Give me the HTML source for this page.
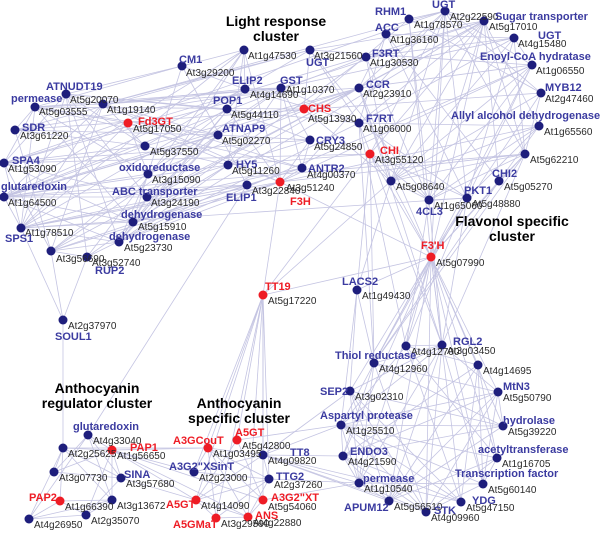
<!DOCTYPE html>
<html><head><meta charset="utf-8">
<style>
html,body{margin:0;padding:0;background:#fff;}
svg{display:block;}
.n{font-family:"Liberation Sans",sans-serif;font-weight:bold;font-size:11px;fill:#3b3ba0;}
.r{font-family:"Liberation Sans",sans-serif;font-weight:bold;font-size:11px;fill:#ee1c25;}
.i{font-family:"Liberation Sans",sans-serif;font-size:10px;fill:#2a2a2a;}
.t{font-family:"Liberation Sans",sans-serif;font-weight:bold;font-size:14px;fill:#000;text-anchor:middle;}
</style></head><body>
<svg id="s" width="600" height="549" viewBox="0 0 600 549" xmlns="http://www.w3.org/2000/svg">
<rect width="600" height="549" fill="#fff"/>
<g id="edges" stroke="#c4c4e2" stroke-width="0.8" fill="none"></g>
<g id="nodes"></g>
<g id="labels">
<text class="t" x="276" y="26">Light response</text><text class="t" x="276" y="41">cluster</text>
<text class="t" x="512" y="226">Flavonol specific</text><text class="t" x="512" y="241">cluster</text>
<text class="t" x="97" y="393">Anthocyanin</text><text class="t" x="97" y="408">regulator cluster</text>
<text class="t" x="239" y="408">Anthocyanin</text><text class="t" x="239" y="423">specific cluster</text>

<text class="n" x="179" y="63">CM1</text><text class="i" x="186" y="76">At3g29200</text>
<text class="i" x="248" y="59">At1g47530</text>
<text class="i" x="314" y="59">At3g21560</text><text class="n" x="306" y="66">UGT</text>
<text class="n" x="46" y="90">ATNUDT19</text><text class="i" x="70" y="103">At5g20070</text>
<text class="n" x="11" y="102">permease</text><text class="i" x="39" y="115">At5g03555</text>
<text class="i" x="107" y="113">At1g19140</text>
<text class="r" x="138" y="125">Fd3GT</text><text class="i" x="133" y="132">At5g17050</text>
<text class="n" x="22" y="131">SDR</text><text class="i" x="20" y="139">At3g61220</text>
<text class="n" x="12" y="164">SPA4</text><text class="i" x="8" y="172">At1g53090</text>
<text class="n" x="1" y="190">glutaredoxin</text><text class="i" x="8" y="206">At1g64500</text>
<text class="i" x="25" y="236">At1g78510</text><text class="n" x="5" y="242">SPS1</text>
<text class="i" x="56" y="262">At3g56690</text><text class="i" x="92" y="266">At3g52740</text><text class="n" x="95" y="274">RUP2</text>
<text class="i" x="150" y="155">At5g37550</text>
<text class="n" x="119" y="171">oxidoreductase</text><text class="i" x="152" y="183">At3g15090</text>
<text class="n" x="112" y="195">ABC transporter</text><text class="i" x="151" y="206">At3g24190</text>
<text class="n" x="121" y="218">dehydrogenase</text><text class="i" x="138" y="230">At5g15910</text>
<text class="n" x="109" y="240">dehydrogenase</text><text class="i" x="124" y="251">At5g23730</text>
<text class="n" x="232" y="84">ELIP2</text><text class="i" x="250" y="98">At4g14690</text>
<text class="n" x="280" y="84">GST</text><text class="i" x="286" y="93">At1g10370</text>
<text class="n" x="213" y="104">POP1</text><text class="i" x="231" y="118">At5g44110</text>
<text class="n" x="222" y="132">ATNAP9</text><text class="i" x="222" y="144">At5g02270</text>
<text class="n" x="236" y="168">HY5</text><text class="i" x="232" y="174">At5g11260</text>
<text class="n" x="226" y="201">ELIP1</text><text class="i" x="252" y="194">At3g22840</text>
<text class="r" x="290" y="205">F3H</text><text class="i" x="286" y="191">At3g51240</text>
<text class="r" x="308" y="112">CHS</text><text class="i" x="308" y="122">At5g13930</text>
<text class="n" x="316" y="144">CRY3</text><text class="i" x="314" y="150">At5g24850</text>
<text class="n" x="308" y="172">ANTR2</text><text class="i" x="307" y="178">At4g00370</text>

<text class="n" x="432" y="8">UGT</text><text class="i" x="450" y="20">At2g22590</text>
<text class="n" x="375" y="15">RHM1</text><text class="i" x="414" y="28">At1g78570</text>
<text class="n" x="495" y="20">Sugar transporter</text><text class="i" x="489" y="30">At5g17010</text>
<text class="n" x="375" y="31">ACC</text><text class="i" x="390" y="43">At1g36160</text>
<text class="n" x="538" y="39">UGT</text><text class="i" x="518" y="47">At4g15480</text>
<text class="n" x="372" y="57">F3RT</text><text class="i" x="370" y="66">At1g30530</text>
<text class="n" x="480" y="60">Enoyl-CoA hydratase</text><text class="i" x="536" y="74">At1g06550</text>
<text class="n" x="366" y="88">CCR</text><text class="i" x="363" y="97">At2g23910</text>
<text class="n" x="545" y="91">MYB12</text><text class="i" x="545" y="102">At2g47460</text>
<text class="n" x="366" y="122">F7RT</text><text class="i" x="363" y="132">At1g06000</text>
<text class="n" x="451" y="119">Allyl alcohol dehydrogenase</text><text class="i" x="544" y="135">At1g65560</text>
<text class="r" x="380" y="154">CHI</text><text class="i" x="375" y="163">At3g55120</text>
<text class="i" x="530" y="163">At5g62210</text>
<text class="n" x="492" y="177">CHI2</text><text class="i" x="504" y="190">At5g05270</text>
<text class="i" x="396" y="190">At5g08640</text>
<text class="n" x="464" y="194">PKT1</text><text class="i" x="472" y="207">At5g48880</text>
<text class="i" x="434" y="209">At1g65060</text><text class="n" x="416" y="215">4CL3</text>
<text class="r" x="421" y="249">F3'H</text><text class="i" x="436" y="266">At5g07990</text>

<text class="i" x="68" y="329">At2g37970</text><text class="n" x="55" y="340">SOUL1</text>
<text class="n" x="73" y="430">glutaredoxin</text><text class="i" x="93" y="444">At4g33040</text>
<text class="i" x="68" y="457">At2g25625</text>
<text class="r" x="130" y="451">PAP1</text><text class="i" x="117" y="459">At1g56650</text>
<text class="i" x="59" y="481">At3g07730</text>
<text class="n" x="124" y="478">SINA</text><text class="i" x="126" y="487">At3g57680</text>
<text class="r" x="29" y="501">PAP2</text><text class="i" x="65" y="510">At1g66390</text>
<text class="i" x="117" y="509">At3g13672</text>
<text class="i" x="91" y="524">At2g35070</text>
<text class="i" x="34" y="528">At4g26950</text>

<text class="r" x="265" y="290">TT19</text><text class="i" x="268" y="304">At5g17220</text>
<text class="r" x="173" y="444">A3GCouT</text><text class="i" x="213" y="457">At1g03495</text>
<text class="r" x="235" y="436">A5GT</text><text class="i" x="242" y="449">At5g42800</text>
<text class="n" x="290" y="456">TT8</text><text class="i" x="268" y="464">At4g09820</text>
<text class="n" x="169" y="470">A3G2"XSinT</text><text class="i" x="199" y="481">At2g23000</text>
<text class="n" x="276" y="480">TTG2</text><text class="i" x="274" y="488">At2g37260</text>
<text class="r" x="166" y="508">A5GT</text><text class="i" x="201" y="509">At4g14090</text>
<text class="r" x="271" y="501">A3G2"XT</text><text class="i" x="268" y="510">At5g54060</text>
<text class="r" x="173" y="528">A5GMaT</text><text class="i" x="221" y="527">At3g29590</text>
<text class="r" x="255" y="519">ANS</text><text class="i" x="253" y="526">At4g22880</text>

<text class="n" x="342" y="285">LACS2</text><text class="i" x="362" y="299">At1g49430</text>
<text class="i" x="411" y="355">At4g12700</text>
<text class="n" x="453" y="345">RGL2</text><text class="i" x="447" y="354">At3g03450</text>
<text class="n" x="335" y="359">Thiol reductase</text><text class="i" x="379" y="372">At4g12960</text>
<text class="i" x="483" y="374">At4g14695</text>
<text class="n" x="320" y="395">SEP2</text><text class="i" x="355" y="400">At3g02310</text>
<text class="n" x="503" y="390">MtN3</text><text class="i" x="503" y="401">At5g50790</text>
<text class="n" x="320" y="419">Aspartyl protease</text><text class="i" x="346" y="434">At1g25510</text>
<text class="n" x="503" y="424">hydrolase</text><text class="i" x="508" y="435">At5g39220</text>
<text class="n" x="350" y="455">ENDO3</text><text class="i" x="348" y="465">At4g21590</text>
<text class="n" x="478" y="453">acetyltransferase</text><text class="i" x="502" y="467">At1g16705</text>
<text class="n" x="363" y="482">permease</text><text class="i" x="364" y="492">At1g10540</text>
<text class="n" x="455" y="477">Transcription factor</text><text class="i" x="488" y="493">At5g60140</text>
<text class="n" x="344" y="511">APUM12</text><text class="i" x="394" y="510">At5g56510</text>
<text class="n" x="472" y="504">YDG</text><text class="i" x="466" y="511">At5g47150</text>
<text class="n" x="434" y="514">STK</text><text class="i" x="431" y="521">At4g09960</text>
</g>
</svg>
<script>
var N={
CM1:[182,66],a47530:[244,50],a21560:[310,50],NUD:[66,94],perm1:[35,107],a19140:[103,104],Fd3GT:[128,123,1],SDR:[15,130],SPA4:[4,163],glut1:[4,197],SPS1:[21,228],a56:[51,251],RUP2:[87,257],a37550:[145,146],oxid:[148,174],ABC:[147,197],deh1:[133,222],deh2:[119,242],ELIP2:[245,89],GST:[281,88],POP1:[227,109],NAP9:[218,135],HY5:[228,165],ELIP1:[247,185],F3H:[280,182,1],CHS:[304,109,1],CRY3:[310,140],ANTR2:[302,168],
UGT1:[445,11],RHM1:[409,19],Sugar:[484,21],ACC:[386,34],UGT2:[514,38],F3RT:[366,57],Enoyl:[532,65],CCR:[359,88],MYB12:[541,93],F7RT:[359,123],Allyl:[539,126],CHI:[370,154,1],a62210:[525,154],CHI2:[499,181],a08640:[391,181],PKT1:[467,198],CL3:[429,200],F3pH:[431,257,1],
LACS2:[357,290],a12700:[406,346],RGL2:[442,345],Thiol:[374,363],a14695:[478,365],SEP2:[350,391],MtN3:[498,392],Asp:[341,425],hyd:[503,426],ENDO3:[343,456],acet:[497,458],perm2:[359,483],TF:[483,484],APUM:[389,501],YDG:[461,502],STK:[426,512],
TT19:[263,295,1],A3GCouT:[208,448,1],A5GT:[237,440,1],TT8:[263,455],XSinT:[194,472],TTG2:[269,479],A5GT2:[196,500,1],A3G2XT:[263,500,1],A5GMaT:[216,518,1],ANS:[248,517,1],
SOUL1:[63,320],glut2:[88,435],a25625:[63,448],PAP1:[112,450,1],a07730:[54,472],SINA:[121,478],PAP2:[60,501,1],a13672:[112,500],a35070:[86,515],a26950:[29,519]};
var L=['CM1','a47530','a21560','NUD','perm1','a19140','Fd3GT','SDR','SPA4','glut1','SPS1','a56','RUP2','a37550','oxid','ABC','deh1','deh2','ELIP2','GST','POP1','NAP9','HY5','ELIP1','F3H','CHS','CRY3','ANTR2'];
var F=['UGT1','RHM1','Sugar','ACC','UGT2','F3RT','Enoyl','CCR','MYB12','F7RT','Allyl','CHI','a62210','CHI2','a08640','PKT1','CL3','F3pH'];
var B=['a12700','RGL2','Thiol','a14695','SEP2','MtN3','Asp','hyd','ENDO3','acet','perm2','TF','APUM','YDG','STK'];
var A=['A3GCouT','A5GT','TT8','XSinT','TTG2','A5GT2','A3G2XT','A5GMaT','ANS'];
var R=['glut2','a25625','PAP1','a07730','SINA','PAP2','a13672','a35070','a26950'];
var seed=7;function rnd(){seed=(seed*16807)%2147483647;return seed/2147483647;}
var E=[];function e(a,b){E.push([a,b]);}
function clique(c,p){for(var i=0;i<c.length;i++)for(var j=i+1;j<c.length;j++)if(rnd()<p)e(c[i],c[j]);}
clique(L,0.3);clique(F,0.4);clique(B,0.6);clique(A,0.6);clique(R,0.55);
var hubs=['CHS','F3H','CRY3','ANTR2','CHI','F7RT','CCR','GST','a21560'];
for(var i=0;i<L.length;i++)for(var j=0;j<F.length;j++){var p=(hubs.indexOf(L[i])>=0||hubs.indexOf(F[j])>=0)?0.18:0.03;if(rnd()<p)e(L[i],F[j]);}
B.forEach(function(b){e('F3pH',b);});
['CHI','a08640','CL3','PKT1','CHI2','a62210','F7RT','CCR'].forEach(function(f){if(rnd()<0.6)e(f,'RGL2');if(rnd()<0.5)e(f,'a12700');if(rnd()<0.4)e(f,'Thiol');});
e('LACS2','F3pH');e('LACS2','CHI');e('LACS2','a08640');e('LACS2','SEP2');e('LACS2','Thiol');e('LACS2','Asp');
A.forEach(function(a){e('TT19',a);});e('TT19','F3H');e('TT19','F3pH');e('TT19','CHI');e('F3H','F3pH');e('TT19','a08640');
['ENDO3','perm2','APUM','STK','Asp','SEP2','YDG'].forEach(function(b){e('TT8',b);});e('TTG2','perm2');e('A3G2XT','perm2');e('A5GT','Asp');
e('SOUL1','a25625');e('SOUL1','SPS1');e('SOUL1','a56');e('SOUL1','RUP2');e('SPS1','glut1');
e('glut2','ELIP1');['A3GCouT','A5GT2','ANS','A3G2XT','XSinT'].forEach(function(a){e('PAP1',a);});e('a25625','A3GCouT');e('SINA','A5GT2');
var g=document.getElementById('edges'),ns='http://www.w3.org/2000/svg',h='';
E.forEach(function(x){var a=N[x[0]],b=N[x[1]];h+='<line x1="'+a[0]+'" y1="'+a[1]+'" x2="'+b[0]+'" y2="'+b[1]+'"/>';});
g.innerHTML=h;h='';
for(var k in N){var n=N[k];h+='<circle cx="'+n[0]+'" cy="'+n[1]+'" r="4.5" fill="'+(n[2]?'#ee1c25':'#1e1e7c')+'"/>';}
document.getElementById('nodes').innerHTML=h;
</script>
</body></html>
